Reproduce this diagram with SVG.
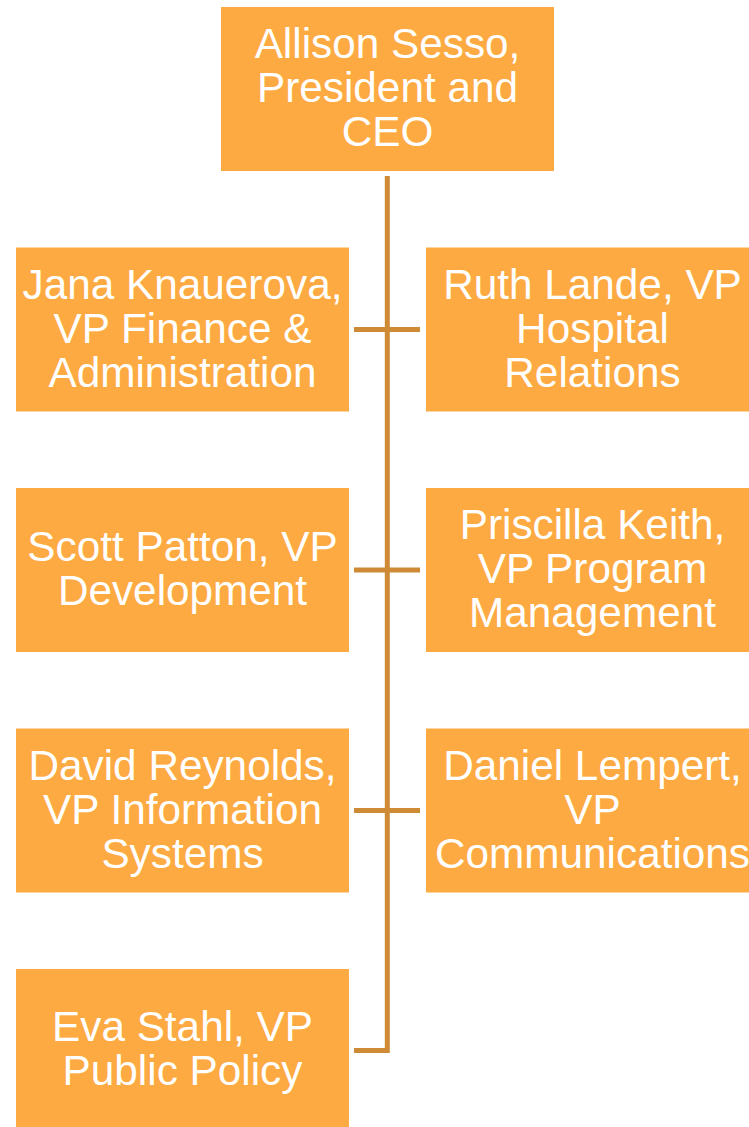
<svg xmlns="http://www.w3.org/2000/svg" width="749" height="1127" viewBox="0 0 749 1127">
  <style>
    .box { fill: #FEAA42; }
    .label { fill: #FFFFFF; font-family: "Liberation Sans", Arial, sans-serif; font-size: 42.3px; text-anchor: middle; }
    .link { fill: none; stroke: #CF8A35; stroke-width: 5; }
  </style>
  <rect width="749" height="1127" fill="#FFFFFF"/>

  <!-- reporting lines -->
  <g id="connectors">
    <path class="link" d="M387.3 176 V1050.5 H354"/>
    <path class="link" d="M354 329.5 H420"/>
    <path class="link" d="M354 570 H420"/>
    <path class="link" d="M354 810.5 H420"/>
  </g>

  <g id="ceo">
    <rect class="box" x="221" y="7" width="333" height="164"/>
    <text class="label" x="387.5"><tspan x="387.5" y="58">Allison Sesso,</tspan><tspan x="387.5" y="102">President and</tspan><tspan x="387.5" y="146">CEO</tspan></text>
  </g>

  <g id="vp-finance">
    <rect class="box" x="16" y="247.5" width="333" height="164"/>
    <text class="label"><tspan x="182.5" y="298.5">Jana Knauerova,</tspan><tspan x="182.5" y="342.5">VP Finance &amp;</tspan><tspan x="182.5" y="386.5">Administration</tspan></text>
  </g>

  <g id="vp-hospital">
    <rect class="box" x="426" y="247.5" width="333" height="164"/>
    <text class="label"><tspan x="592.5" y="298.5">Ruth Lande, VP</tspan><tspan x="592.5" y="342.5">Hospital</tspan><tspan x="592.5" y="386.5">Relations</tspan></text>
  </g>

  <g id="vp-development">
    <rect class="box" x="16" y="488" width="333" height="164"/>
    <text class="label"><tspan x="182.5" y="561">Scott Patton, VP</tspan><tspan x="182.5" y="605">Development</tspan></text>
  </g>

  <g id="vp-program">
    <rect class="box" x="426" y="488" width="333" height="164"/>
    <text class="label"><tspan x="592.5" y="539">Priscilla Keith,</tspan><tspan x="592.5" y="583">VP Program</tspan><tspan x="592.5" y="627">Management</tspan></text>
  </g>

  <g id="vp-information">
    <rect class="box" x="16" y="728.5" width="333" height="164"/>
    <text class="label"><tspan x="182.5" y="779.5">David Reynolds,</tspan><tspan x="182.5" y="823.5">VP Information</tspan><tspan x="182.5" y="867.5">Systems</tspan></text>
  </g>

  <g id="vp-communications">
    <rect class="box" x="426" y="728.5" width="333" height="164"/>
    <text class="label"><tspan x="592.5" y="779.5">Daniel Lempert,</tspan><tspan x="592.5" y="823.5">VP</tspan><tspan x="592.5" y="867.5">Communications</tspan></text>
  </g>

  <g id="vp-policy">
    <rect class="box" x="16" y="969" width="333" height="164"/>
    <text class="label"><tspan x="182.5" y="1041">Eva Stahl, VP</tspan><tspan x="182.5" y="1085">Public Policy</tspan></text>
  </g>
</svg>
